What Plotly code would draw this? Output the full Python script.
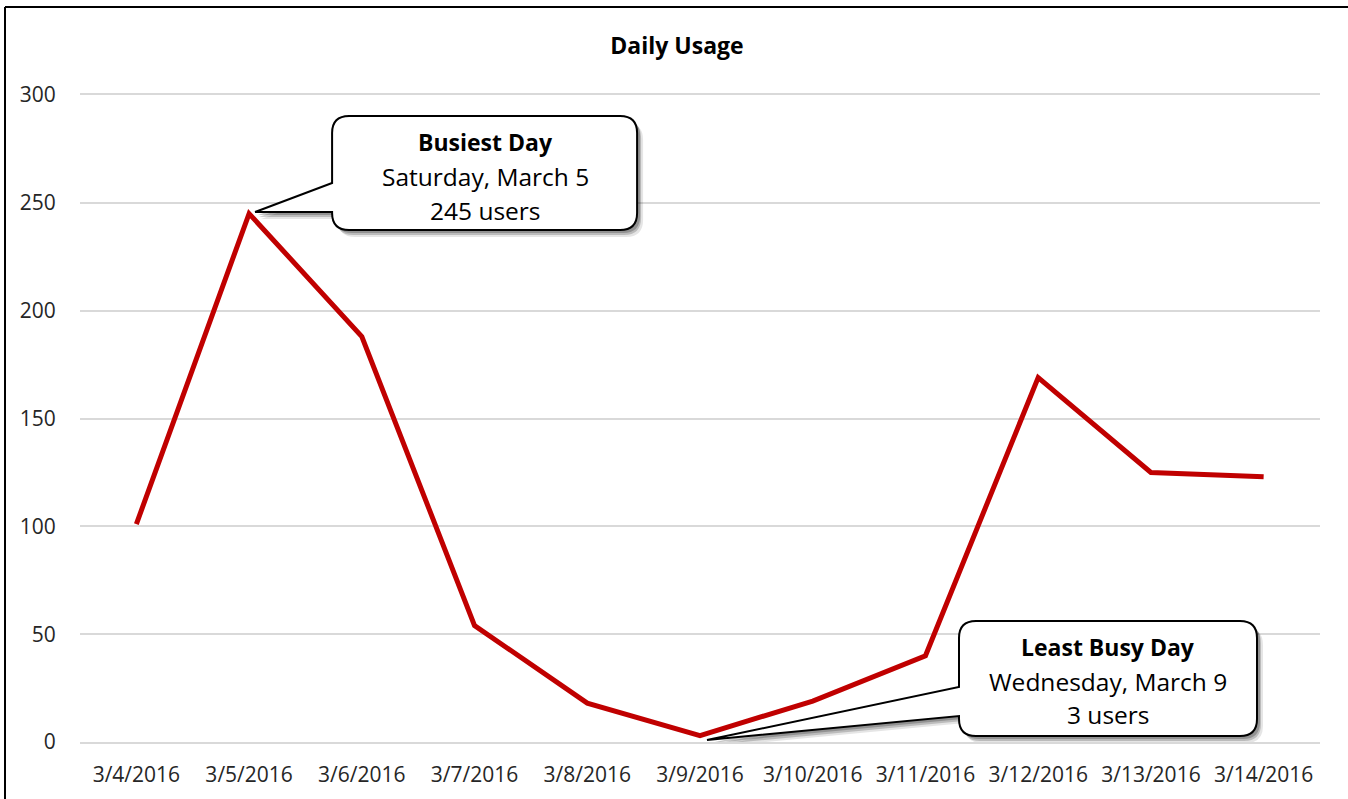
import plotly.graph_objects as go

dates = ["3/4/2016", "3/5/2016", "3/6/2016", "3/7/2016", "3/8/2016", "3/9/2016",
         "3/10/2016", "3/11/2016", "3/12/2016", "3/13/2016", "3/14/2016"]
users = [101, 245, 188, 54, 18, 3, 19, 40, 169, 125, 123]
y_ticks = [0, 50, 100, 150, 200, 250, 300]

W, H = 1348, 799
L, T = 80, 95
PW, PH = 1240, 647
R, B = W - L - PW, H - T - PH
Y_MAX = 300
n = len(dates)
x_idx = list(range(n))
FONT = "Open Sans"
GRID = "#d9d9d9"

XU = n / PW
YU = Y_MAX / PH


def callout_path(ax, ay, tip, box, attach, r=17, sx=0, sy=0):
    def P(dx, dy):
        return f"{ax + (dx + sx) * XU:.5f},{ay - (dy + sy) * YU:.5f}"
    x0, y0, x1, y1 = box
    ya, yb = attach
    return (f"M {P(*tip)} L {P(x0, ya)} L {P(x0, y0 + r)} Q {P(x0, y0)} {P(x0 + r, y0)} "
            f"L {P(x1 - r, y0)} Q {P(x1, y0)} {P(x1, y0 + r)} L {P(x1, y1 - r)} "
            f"Q {P(x1, y1)} {P(x1 - r, y1)} L {P(x0 + r, y1)} Q {P(x0, y1)} {P(x0, y1 - r)} "
            f"L {P(x0, yb)} Z")


fig = go.Figure()
fig.add_trace(go.Scatter(x=x_idx, y=users, mode="lines",
                         line=dict(color="#C00000", width=5), hoverinfo="skip"))

shapes = []
annotations = []

callouts = [
    dict(i=1, tip=(6, -1.6), box=(83, -97.6, 388, 16.4), attach=(-30.6, -1.6),
         tx=236, ty=[-72, -37, -3],
         lines=["<b>Busiest Day</b>", "Saturday, March 5", f"{users[1]} users"]),
    dict(i=5, tip=(7, 4.5), box=(259, -114.5, 557, 0.5), attach=(-48.5, -19.5),
         tx=408, ty=[-88.5, -54.5, -21.5],
         lines=["<b>Least Busy Day</b>", "Wednesday, March 9", f"{users[5]} users"]),
]

for c in callouts:
    ax, ay = x_idx[c["i"]], users[c["i"]]
    for (sx, sy, op) in [(6, 7, 0.10), (4, 5, 0.18), (3, 3, 0.22)]:
        shapes.append(dict(type="path", xref="x", yref="y", layer="above",
                           path=callout_path(ax, ay, c["tip"], c["box"], c["attach"], sx=sx, sy=sy),
                           fillcolor=f"rgba(0,0,0,{op})", line=dict(width=0)))
    shapes.append(dict(type="path", xref="x", yref="y", layer="above",
                       path=callout_path(ax, ay, c["tip"], c["box"], c["attach"]),
                       fillcolor="white", line=dict(color="black", width=2)))
    for k, (txt, dy) in enumerate(zip(c["lines"], c["ty"])):
        annotations.append(dict(x=ax, y=ay, xref="x", yref="y", text=txt, showarrow=False,
                                xshift=c["tx"], yshift=-dy, xanchor="center", yanchor="middle",
                                font=dict(family=FONT, size=23 if k == 0 else 24.5, color="black")))

# chart border (left and top edges visible)
bx = (5 - L) / PW
by = (H - B - 7) / PH
shapes.append(dict(type="line", xref="paper", yref="paper", x0=bx, x1=bx, y0=by, y1=-0.3,
                   line=dict(color="black", width=2)))
shapes.append(dict(type="line", xref="paper", yref="paper", x0=bx, x1=1.3, y0=by, y1=by,
                   line=dict(color="black", width=2)))

fig.update_layout(
    width=W, height=H,
    margin=dict(l=L, r=R, t=T, b=B, autoexpand=False),
    paper_bgcolor="white", plot_bgcolor="white",
    showlegend=False,
    title=dict(text="<b>Daily Usage</b>", x=(677 - L) / PW, xref="paper", xanchor="center",
               y=1 - 46 / H, yref="container", yanchor="middle",
               font=dict(family=FONT, size=23, color="black")),
    xaxis=dict(range=[-0.5, n - 0.5], tickmode="array", tickvals=x_idx, ticktext=dates,
               showgrid=False, zeroline=False,
               showline=True, linecolor=GRID, linewidth=2, mirror=True,
               ticks="outside", ticklen=13, tickcolor="rgba(0,0,0,0)",
               tickfont=dict(family=FONT, size=21, color="#262626")),
    yaxis=dict(range=[0, Y_MAX], tickmode="array", tickvals=y_ticks,
               showgrid=True, gridcolor=GRID, gridwidth=2, zeroline=False, showline=False,
               ticks="outside", ticklen=19, tickcolor="rgba(0,0,0,0)",
               tickfont=dict(family=FONT, size=21, color="#262626")),
    shapes=shapes, annotations=annotations,
)

fig.write_html("out.html", config={"displayModeBar": False},
               post_script="document.body.style.margin='0px';")
